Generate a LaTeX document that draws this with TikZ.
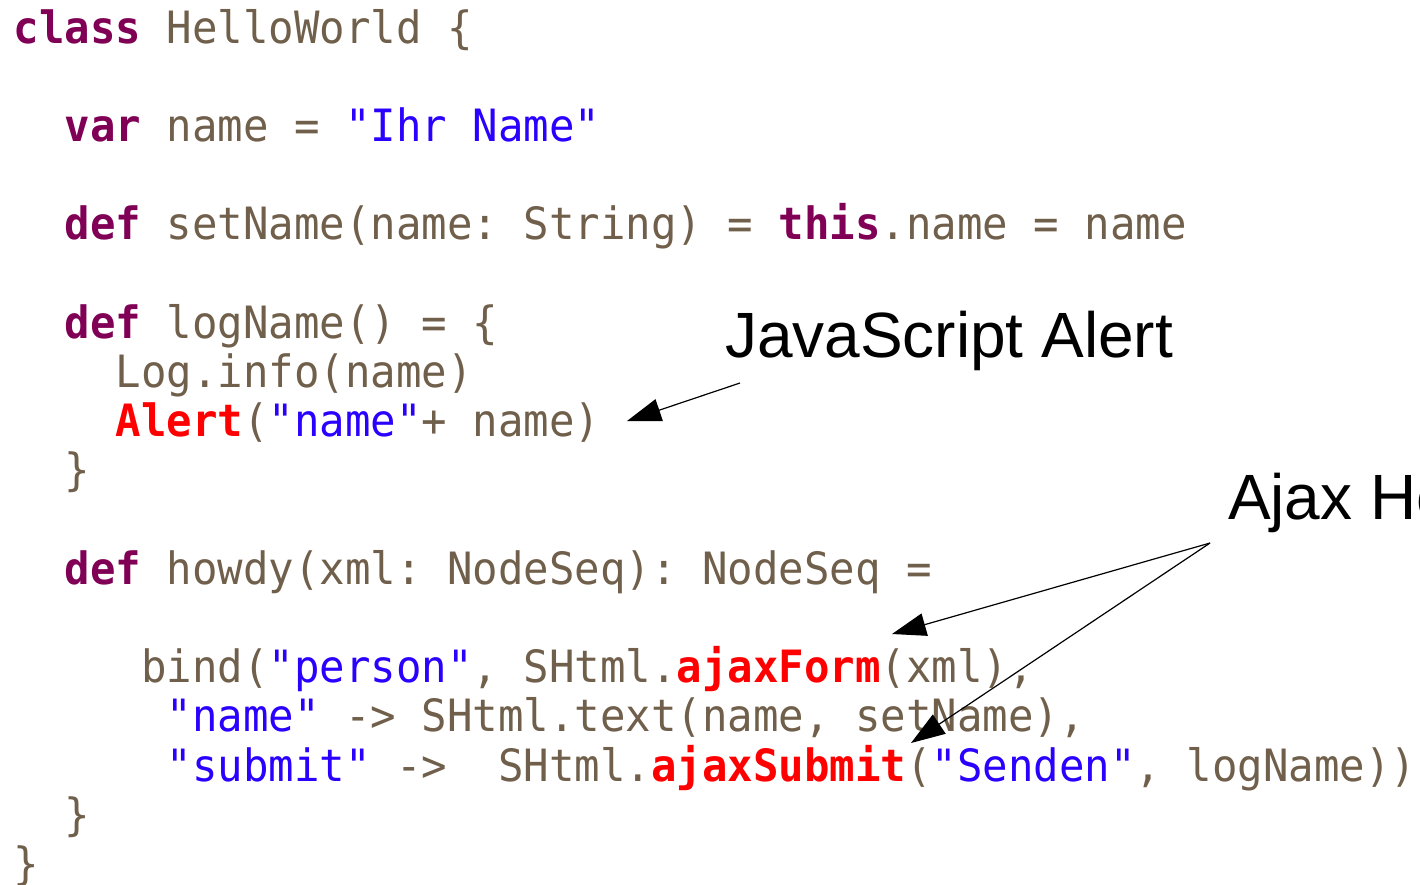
\documentclass[tikz,border=0pt]{standalone}
\usepackage{fontspec}
\usetikzlibrary{arrows.meta}
\newfontfamily\codefont[FakeStretch=0.952]{DejaVu Sans Mono}
\newfontfamily\labelfont{Liberation Sans}
\definecolor{codetext}{HTML}{705F4A}
\definecolor{keyword}{HTML}{7F0055}
\definecolor{strlit}{HTML}{2A00FF}
\definecolor{callout}{HTML}{FF0000}
\newcommand{\kwd}[1]{{\bfseries\color{keyword}#1}}
\newcommand{\strg}[1]{{\color{strlit}#1}}
\newcommand{\redb}[1]{{\bfseries\color{callout}#1}}
\frenchspacing
\begin{document}
\begin{tikzpicture}[x=1pt,y=-1pt,
  codeline/.style={anchor=base west,inner sep=0pt,outer sep=0pt,
    font=\codefont\fontsize{44.5}{49}\selectfont\frenchspacing,text=codetext},
  label/.style={anchor=base west,inner sep=0pt,outer sep=0pt,
    font=\labelfont\fontsize{64}{70}\selectfont,text=black},
  pointer/.style={line width=1.2pt,-{Triangle[length=34pt,width=23pt]}}]
\useasboundingbox (0,0) rectangle (1420,884);
\clip (0,0) rectangle (1420,884);
% one character column is 25.5pt wide, one row is 49.2pt high
\def\col#1{\fpeval{13.5+25.5*#1}}
\def\row#1{\fpeval{43+49.2*#1}}
\node[codeline] (l0)  at (\col{0},\row{0})  {\kwd{class} HelloWorld \{};
\node[codeline] (l2)  at (\col{2},\row{2})  {\kwd{var} name = \strg{"Ihr Name"}};
\node[codeline] (l4)  at (\col{2},\row{4})  {\kwd{def} setName(name: String) = \kwd{this}.name = name};
\node[codeline] (l6)  at (\col{2},\row{6})  {\kwd{def} logName() = \{};
\node[codeline] (l7)  at (\col{4},\row{7})  {Log.info(name)};
\node[codeline] (l8)  at (\col{4},\row{8})  {\redb{Alert}(\strg{"name"}+ name)};
\node[codeline] (l9)  at (\col{2},\row{9})  {\}};
\node[codeline] (l11) at (\col{2},\row{11}) {\kwd{def} howdy(xml: NodeSeq): NodeSeq =};
\node[codeline] (l13) at (\col{5},\row{13}) {bind(\strg{"person"}, SHtml.\redb{ajaxForm}(xml),};
\node[codeline] (l14) at (\col{6},\row{14}) {\strg{"name"} -> SHtml.text(name, setName),};
\node[codeline] (l15) at (\col{6},\row{15}) {\strg{"submit"} ->\ \ SHtml.\redb{ajaxSubmit}(\strg{"Senden"}, logName))};
\node[codeline] (l16) at (\col{2},\row{16}) {\}};
\node[codeline] (l17) at (\col{0},\row{17}) {\}};
% callout labels
\node[label] (jsl) at (725,357) {JavaScript Alert};
\node[label] (ajl) at (1228,519) {Ajax Helper};
% pointer ends
\coordinate (jsfrom) at (740,383);
\coordinate (jsto) at (627,421);
\coordinate (ajfrom) at (1210,543);
\coordinate (formto) at (892,634);
\coordinate (submitto) at (911,743);
\draw[pointer] (jsfrom) -- (jsto);
\draw[pointer] (ajfrom) -- (formto);
\draw[pointer] (ajfrom) -- (submitto);
\end{tikzpicture}
\end{document}
